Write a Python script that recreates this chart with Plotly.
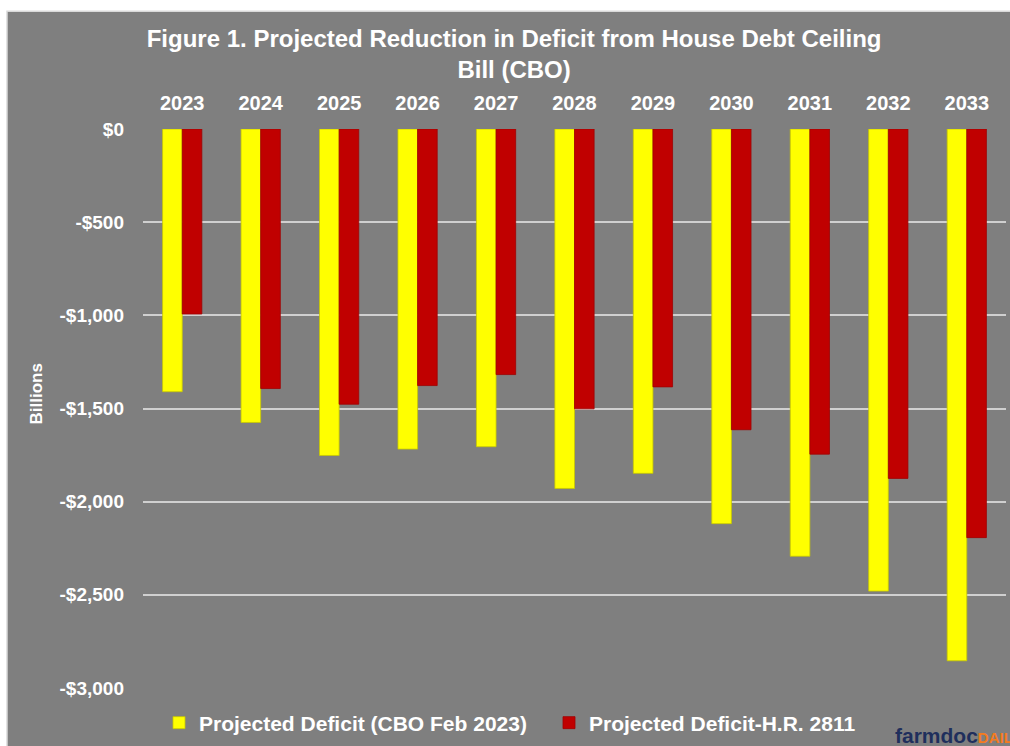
import plotly.graph_objects as go

years = ["2023", "2024", "2025", "2026", "2027", "2028", "2029", "2030", "2031", "2032", "2033"]
cbo_feb_2023 = [-1410, -1575, -1752, -1718, -1705, -1929, -1848, -2118, -2293, -2480, -2854]
hr_2811 = [-993, -1393, -1477, -1377, -1318, -1502, -1384, -1614, -1745, -1875, -2193]
y_tick_vals = [0, -500, -1000, -1500, -2000, -2500, -3000]
y_tick_text = ["$0", "-$500", "-$1,000", "-$1,500", "-$2,000", "-$2,500", "-$3,000"]

FONT = "Liberation Sans, Arial, sans-serif"
BG = "#7f7f7f"

fig = go.Figure()
fig.add_trace(go.Bar(
    x=years, y=cbo_feb_2023, name="Projected Deficit (CBO Feb 2023)",
    marker=dict(color="#ffff00", line=dict(color="#c8c800", width=0.8)),
))
fig.add_trace(go.Bar(
    x=years, y=hr_2811, name="Projected Deficit-H.R. 2811",
    marker=dict(color="#c00000", line=dict(color="#a00000", width=0.8)),
))

W, H = 1010, 746
L, R, T, B = 143, 4, 129, 57
pw, ph = W - L - R, H - T - B

def px_x(p):
    return (p - L) / pw

def px_y(p):
    return (H - B - p) / ph

fig.add_shape(type="rect", xref="paper", yref="paper",
              x0=px_x(7), x1=px_x(1013), y0=px_y(749), y1=px_y(11),
              fillcolor=BG, line=dict(color="#d9d9d9", width=1.5), layer="below")

fig.add_annotation(xref="paper", yref="paper", x=px_x(893), y=px_y(737),
                   xanchor="left", yanchor="middle", showarrow=False,
                   text="<b>farmdoc</b><b><span style='color:#f47b20;font-size:15px'>DAILY</span></b>",
                   font=dict(family=FONT, size=21, color="#1f2f5c"))

fig.add_annotation(xref="paper", yref="paper", x=px_x(37), y=px_y(395),
                   xanchor="center", yanchor="middle", showarrow=False,
                   textangle=-90, text="<b>Billions</b>",
                   font=dict(family=FONT, size=17, color="white"))

fig.update_layout(
    width=W, height=H,
    margin=dict(l=L, r=R, t=T, b=B),
    paper_bgcolor="white",
    plot_bgcolor="rgba(0,0,0,0)",
    barmode="group", bargap=0.5, bargroupgap=0,
    title=dict(
        text="<b>Figure 1. Projected Reduction in Deficit from House Debt Ceiling<br>Bill (CBO)</b>",
        x=0.509, xanchor="center", y=1 - 47 / H, yanchor="top",
        font=dict(family=FONT, size=24, color="white"),
    ),
    font=dict(family=FONT, color="white"),
    xaxis=dict(
        side="top", showline=False, showgrid=False, zeroline=False,
        ticks="", ticklabelstandoff=14,
        tickfont=dict(family=FONT, size=20, color="white", weight="bold"),
    ),
    yaxis=dict(
        range=[-3000, 0], tickvals=y_tick_vals, ticktext=y_tick_text,
        showgrid=True, gridcolor="#d0d0d0", gridwidth=1.5,
        zeroline=False, showline=False, ticks="", ticklabelstandoff=18,
        tickfont=dict(family=FONT, size=19, color="white", weight="bold"),
    ),
    legend=dict(
        orientation="h", x=px_x(159), xanchor="left", y=px_y(723), yanchor="middle",
        bgcolor="rgba(0,0,0,0)", font=dict(family=FONT, size=21, color="white", weight="bold"),
        entrywidth=345, entrywidthmode="pixels",
        traceorder="normal",
    ),
)

fig.write_html("out.html")
